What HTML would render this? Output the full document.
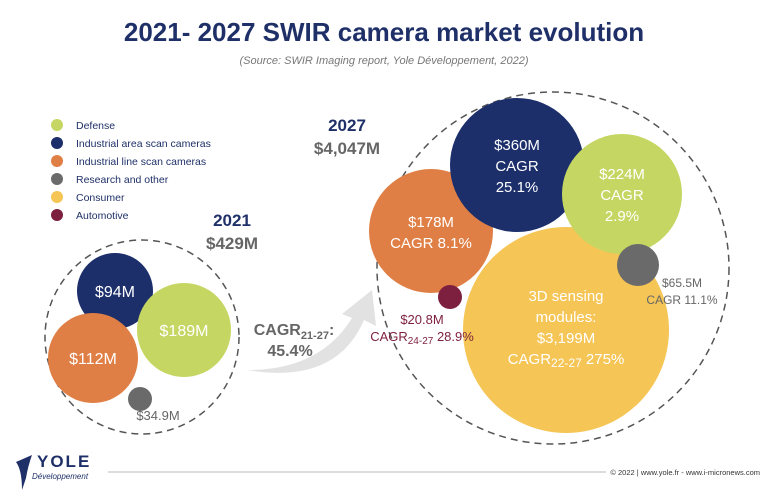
<!DOCTYPE html>
<html><head><meta charset="utf-8"><style>
body{margin:0;background:#fff;font-family:"Liberation Sans",sans-serif}
svg{display:block}
</style></head><body>
<svg id="c" width="768" height="496" viewBox="0 0 768 496" xmlns="http://www.w3.org/2000/svg">
<text x="384" y="41" text-anchor="middle" font-weight="bold" font-size="26" fill="#1f3068">2021- 2027 SWIR camera market evolution</text>
<text x="384" y="64" text-anchor="middle" font-style="italic" font-size="11" fill="#777">(Source: SWIR Imaging report, Yole Développement, 2022)</text>
<g id="legend"></g>
<circle cx="142" cy="337" r="97" fill="none" stroke="#555" stroke-width="1.5" stroke-dasharray="7,5"/>
<circle cx="553" cy="268" r="176" fill="none" stroke="#555" stroke-width="1.5" stroke-dasharray="7,5"/>
<text x="232" y="226" text-anchor="middle" font-weight="bold" font-size="17" fill="#1f3068">2021</text>
<text x="232" y="249" text-anchor="middle" font-weight="bold" font-size="17" fill="#666">$429M</text>
<text x="347" y="131" text-anchor="middle" font-weight="bold" font-size="17" fill="#1f3068">2027</text>
<text x="347" y="154" text-anchor="middle" font-weight="bold" font-size="17" fill="#666">$4,047M</text>
<path d="M248,370 Q320,370 352,318 L342,314 L372,290 L376,326 L364,320 Q336,385 248,370Z" fill="#e2e2e2"/>
<text x="294" y="335" text-anchor="middle" font-weight="bold" font-size="16" fill="#666">CAGR<tspan font-size="11" dy="4">21-27</tspan><tspan dy="-4">:</tspan></text>
<text x="290" y="356" text-anchor="middle" font-weight="bold" font-size="16" fill="#666">45.4%</text>
<g id="bubbles"></g>
<line x1="108" y1="472" x2="606" y2="472" stroke="#bbb" stroke-width="1"/>
<text x="37" y="467" font-weight="bold" font-size="17" fill="#1f3068" letter-spacing="2">YOLE</text>
<text x="32" y="479" font-style="italic" font-size="8" fill="#1f3068">Développement</text>
<path d="M16,462 Q22,470 22,490 L26,478 Q28,466 32,455 Z" fill="#1f3068"/>
<text x="760" y="475" text-anchor="end" font-size="7.5" fill="#333">© 2022 | www.yole.fr - www.i-micronews.com</text>
</svg>
<script>
const segments=["Defense","Industrial area scan cameras","Industrial line scan cameras","Research and other","Consumer","Automotive"];
const colors=["#c5d762","#1c2f6b","#e07f45","#6a6a6a","#f5c556","#7d1f3e"];
const values2021=[189,94,112,34.9,0,0];
const values2027=[224,360,178,65.5,3199,20.8];
const cagr=["2.9%","25.1%","8.1%","11.1%","275%","28.9%"];
const layout2021=[[184,330,47],[115,291,38],[93,358,45],[140,399,12]];
const layout2027=[[622,194,60],[517,165,67],[431,231,62],[638,265,21],[566,330,103],[450,297,12]];
const NS="http://www.w3.org/2000/svg";
function mk(t,a,p){const e=document.createElementNS(NS,t);for(const k in a)e.setAttribute(k,a[k]);p.appendChild(e);return e;}
const lg=document.getElementById('legend');
segments.forEach((s,i)=>{const y=125+i*18;
 const c=mk('circle',{cx:57,cy:y,r:6,fill:colors[i]},lg);
 
 
 const t=mk('text',{x:76,y:y+4,'font-size':10.5,fill:'#1f3068'},lg);t.textContent=s;
 
 });
const bg=document.getElementById('bubbles');
function fmt(v){return v>=1000?'$'+v.toLocaleString('en-US')+'M':'$'+v+'M';}
[1,0,2,3].forEach(i=>{const v=values2021[i];if(!v)return;const L=layout2021[i];
 const c=mk('circle',{cx:L[0],cy:L[1],r:L[2],fill:colors[i]},bg);
 
 
 if(i===3){const t=mk('text',{x:L[0]+18,y:L[1]+21,'font-size':13,fill:'#666','text-anchor':'middle'},bg);t.textContent=fmt(v);}
 else{const t=mk('text',{x:L[0],y:L[1]+6,'font-size':16,fill:'#fff','text-anchor':'middle'},bg);t.textContent=fmt(v);}
});
[4,2,1,0,3,5].forEach(i=>{const v=values2027[i];const L=layout2027[i];
 const c=mk('circle',{cx:L[0],cy:L[1],r:L[2],fill:colors[i]},bg);
 
 
 const x=L[0],y=L[1];let lines,col='#fff',fs=15,lh=21,tx=x,ty;
 if(i===0||i===1){lines=[fmt(v),'CAGR',cagr[i]];ty=y-15;}
 else if(i===2){lines=[fmt(v),'CAGR '+cagr[i]];ty=y-4;}
 else if(i===3){lines=[fmt(v),'CAGR '+cagr[i]];col='#666';fs=12;lh=17;tx=x+44;ty=y+22;}
 else if(i===4){lines=['3D sensing','modules:',fmt(v),'CAGR'];ty=y-29;}
 else{lines=[fmt(v),'CAGR'];col='#7d1f3e';fs=13;lh=17;tx=x-28;ty=y+27;}
 lines.forEach((s,k)=>{const t=mk('text',{x:tx,y:ty+k*lh,'font-size':fs,fill:col,'text-anchor':'middle'},bg);
  if(s==='CAGR'&&(i===4||i===5)){t.innerHTML='CAGR<tspan font-size="'+(fs-3)+'" dy="3">'+(i===4?'22-27':'24-27')+'</tspan><tspan dy="-3"> '+cagr[i]+'</tspan>';}
  else t.textContent=s;});
});
</script>
</body></html>
